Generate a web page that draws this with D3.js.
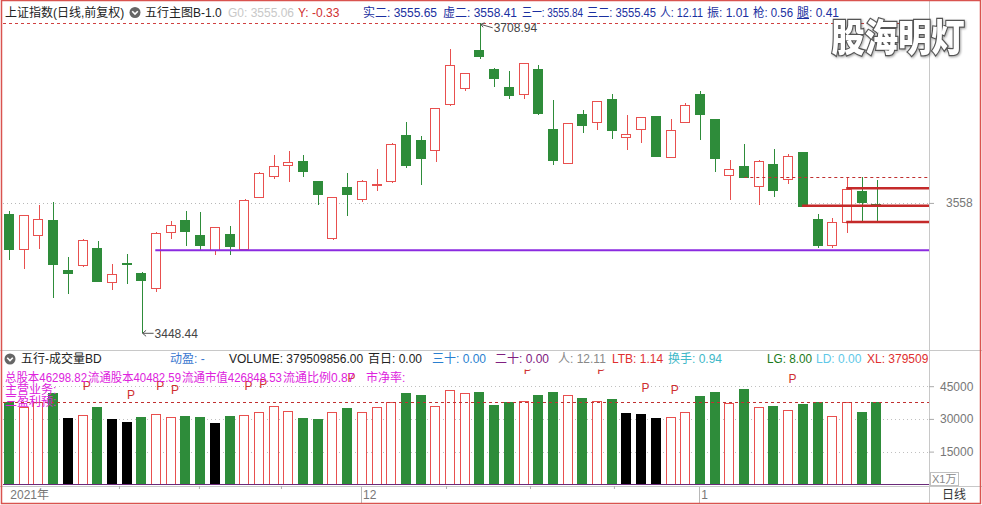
<!DOCTYPE html>
<html><head><meta charset="utf-8">
<script src="https://cdn.jsdelivr.net/npm/d3@7"></script>
<style>
html,body{margin:0;padding:0;background:#fff;}
svg{display:block;font-family:"Liberation Sans","Noto Sans CJK SC",sans-serif;}
</style></head><body>
<svg id="c" width="982" height="505"></svg>
<script>
// ---------------- DATA ----------------
const opens = [3548.29,3518.85,3530.62,3543.49,3501.44,3505.64,3520.19,3491.60,3507.91,3499.17,
3486.89,3533.65,3543.49,3530.88,3518.26,3531.97,3518.85,3562.59,3580.75,3590.34,
3593.37,3576.05,3528.10,3571.25,3561.75,3573.86,3576.55,3614.99,3611.04,3602.37,
3640.47,3653.93,3686.74,3670.25,3655.11,3648.89,3670.25,3620.04,3591.44,3632.65,
3625.67,3645.27,3613.05,3619.78,3630.97,3596.48,3625.67,3649.47,3628.45,3580.75,
3589.17,3572.68,3590.34,3578.57,3600.94,3544.08,3522.21,3541.81,3567.89,3557.00];
const highs = [3551.32,3548.00,3556.11,3558.89,3512.62,3527.76,3526.08,3507.07,3515.48,3499.60,
3533.40,3542.65,3551.06,3550.22,3537.90,3538.45,3560.90,3584.12,3597.91,3601.78,
3597.91,3576.40,3563.00,3582.77,3576.90,3586.14,3608.00,3626.18,3614.40,3637.80,
3687.58,3667.20,3708.94,3671.60,3668.82,3675.60,3673.87,3644.43,3625.33,3635.76,
3643.90,3649.47,3631.56,3630.20,3631.30,3628.45,3641.65,3652.00,3628.80,3593.96,
3607.67,3593.70,3602.96,3598.76,3601.20,3548.29,3544.92,3579.41,3579.41,3576.88];
const lows = [3509.85,3502.87,3519.69,3478.14,3481.25,3504.21,3491.60,3485.20,3489.66,3448.44,
3483.19,3528.10,3522.21,3518.26,3514.05,3514.05,3518.26,3562.30,3578.23,3575.71,
3579.91,3555.86,3527.26,3547.11,3558.89,3568.14,3574.36,3587.48,3572.93,3592.03,
3639.38,3652.25,3678.91,3655.62,3645.52,3645.27,3632.06,3589.50,3591.10,3616.92,
3618.94,3611.88,3602.37,3608.01,3597.00,3596.20,3625.40,3610.78,3584.12,3560.32,
3578.82,3555.86,3563.09,3573.52,3555.60,3520.19,3520.19,3532.31,3542.06,3542.06];
const closes = [3518.85,3547.45,3544.08,3506.48,3499.17,3526.92,3492.44,3498.66,3507.49,3493.62,
3532.81,3539.29,3534.24,3522.47,3537.61,3521.62,3560.06,3582.77,3589.17,3592.53,
3584.96,3565.11,3562.59,3565.11,3576.55,3574.20,3607.67,3589.76,3595.90,3637.45,
3673.61,3666.89,3681.44,3662.34,3648.04,3675.30,3632.90,3593.96,3624.83,3623.15,
3643.59,3618.94,3615.58,3629.88,3597.33,3618.94,3639.97,3632.90,3595.90,3586.14,
3579.91,3593.37,3568.14,3597.58,3555.86,3522.21,3541.81,3569.82,3558.63,3556.40];
// volume in 万 (x10000)
const volumes = [37750,35600,37750,42020,30550,31930,35600,30090,28720,31010,
32250,31010,31470,31010,27980,31470,31930,33160,35920,33620,
30550,30090,33160,35140,33160,35600,37750,42020,40820,35920,
43250,42020,42480,36520,37610,38210,41100,42340,40960,39590,
38210,39130,32840,32110,30550,30870,33160,40640,42340,37430,
43850,35600,36050,34080,36970,37750,31470,37750,33300,37951];
const blackVolIdx = [4,7,8,14,42,43,44];
const pMarkIdx = [5,8,10,11,16,17,23,35,40,43,45,53];
const pMarkLevel = [45230,41420,45230,43710,45230,46010,49220,52570,52570,44310,43710,48760];

const highValue = 3708.94, lowValue = 3448.44;
const supportLevel = 3518.26, supportFrom = 10;
const boxLevels = [3570.41, 3555.52, 3542.06];
const boxFrom = [57, 54, 57];
const dashLevel = 3579.66, dashFrom = 50;
const volDashLevel = 37615;
const priceTicks = [3558];
const volTicks = [15000, 30000, 45000];
const monthIdx = [0, 24, 47];
const monthLabels = ["2021年", "12", "1"];
const minorTickIdx = [7.46, 12.9, 18.48, 29.71, 35.42, 41.13];

const mainHeader = ["上证指数(日线,前复权)", "五行主图B-1.0", "G0: 3555.06", "Y: -0.33", "实二: 3555.65", "虚二: 3558.41",
  "三一: 3555.84", "三二: 3555.45", "人: 12.11", "振: 1.01", "枪: 0.56", "腿: 0.41"];
const volHeader = ["五行-成交量BD", "动盈: -", "VOLUME: 379509856.00", "百日: 0.00", "三十: 0.00", "二十: 0.00",
  "人: 12.11", "LTB: 1.14", "换手: 0.94", "LG: 8.00", "LD: 0.00", "XL: 379509856.00"];
const infoLine = ["总股本46298.82", "流通股本40482.59", "流通市值426848.53", "流通比例0.87", "市净率:"];
const infoLine2 = ["主营业务:", "三盈利预:"];
const watermark = "股海明灯";

// ---------------- LAYOUT ----------------
const svg = d3.select("#c");
const n = opens.length;
const RED = "#e8504f", GREEN = "#2e8c3a", PURPLE = "#8b2be0", DRED = "#c42a2a";
const x = d3.scaleBand().domain(d3.range(n)).range([1.95, 883.95]).paddingInner(0.29).paddingOuter(0.145);
const bw = x.bandwidth();
const cx = i => x(i) + bw / 2;
const xi = d3.scaleLinear().domain([0, n - 1]).range([cx(0), cx(n - 1)]);
const y = d3.scaleLinear().domain([lowValue, highValue]).range([333.3, 23.3]);
const yv = d3.scaleLinear().domain([0, 45000]).range([484.3, 386.2]);
const PR = 929; // plot right edge

// shrink a row of texts so that none runs into the next one
function fitRow(sel, xs, gap) {
  sel.each(function (d, k) {
    if (k >= xs.length - 1) return;
    const avail = xs[k + 1] - xs[k] - gap;
    const w = this.getComputedTextLength();
    if (w > avail) d3.select(this).attr("textLength", avail).attr("lengthAdjust", "spacingAndGlyphs");
  });
}

const defs = svg.append("defs");
defs.append("clipPath").attr("id", "clipMain").append("rect").attr("x", 3).attr("y", 20).attr("width", PR - 3).attr("height", 329);
defs.append("clipPath").attr("id", "clipVol").append("rect").attr("x", 3).attr("y", 369.5).attr("width", PR - 3).attr("height", 115.5);
defs.append("clipPath").attr("id", "clipHead").append("rect").attr("x", 0).attr("y", 0).attr("width", PR - 1).attr("height", 505);

svg.append("rect").attr("width", 982).attr("height", 505).attr("fill", "#fff");

// panel frame lines
const frame = svg.append("g").attr("stroke", "#c8c8c8").attr("shape-rendering", "crispEdges");
frame.append("line").attr("x1", PR + 0.5).attr("x2", PR + 0.5).attr("y1", 0).attr("y2", 504);
frame.append("line").attr("x1", 0).attr("x2", 982).attr("y1", 350.5).attr("y2", 350.5);
frame.append("line").attr("x1", 0).attr("x2", 982).attr("y1", 486.5).attr("y2", 486.5);

// ---------------- MAIN PANEL ----------------
const main = svg.append("g").attr("clip-path", "url(#clipMain)");
main.selectAll("line.grid").data(priceTicks).join("line")
  .attr("x1", 3).attr("x2", PR).attr("y1", d => Math.round(y(d)) + 0.5).attr("y2", d => Math.round(y(d)) + 0.5)
  .attr("stroke", "#b8b8b8").attr("stroke-dasharray", "1,3");
main.append("line").attr("x1", 3).attr("x2", PR).attr("y1", Math.round(y(highValue)) + 0.5).attr("y2", Math.round(y(highValue)) + 0.5)
  .attr("stroke", "#d04040").attr("stroke-dasharray", "3,3");

const up = i => closes[i] >= opens[i];
const cg = main.append("g").attr("shape-rendering", "crispEdges");
cg.selectAll("line.wick").data(d3.range(n)).join("line")
  .attr("x1", i => Math.round(cx(i)) + 0.5).attr("x2", i => Math.round(cx(i)) + 0.5)
  .attr("y1", i => y(highs[i])).attr("y2", i => y(lows[i]))
  .attr("stroke", i => up(i) ? RED : GREEN).attr("stroke-width", 1);
cg.selectAll("rect.body").data(d3.range(n)).join("rect")
  .attr("x", i => Math.round(x(i)) + 0.5)
  .attr("width", Math.round(bw) - 1)
  .attr("y", i => Math.round(y(Math.max(opens[i], closes[i]))) + 0.5)
  .attr("height", i => Math.max(1, Math.round(Math.abs(y(opens[i]) - y(closes[i])))))
  .attr("fill", i => up(i) ? "#fff" : GREEN)
  .attr("stroke", i => up(i) ? RED : GREEN);

main.append("line").attr("x1", cx(supportFrom) - 1).attr("x2", PR).attr("y1", y(supportLevel)).attr("y2", y(supportLevel))
  .attr("stroke", PURPLE).attr("stroke-width", 2);
main.append("line").attr("x1", cx(dashFrom)).attr("x2", PR).attr("y1", Math.round(y(dashLevel)) + 0.5).attr("y2", Math.round(y(dashLevel)) + 0.5)
  .attr("stroke", "#c03030").attr("stroke-dasharray", "3,3");
main.selectAll("line.box").data(boxLevels).join("line")
  .attr("x1", (d, k) => cx(boxFrom[k]) - 1).attr("x2", PR)
  .attr("y1", d => y(d)).attr("y2", d => y(d))
  .attr("stroke", DRED).attr("stroke-width", 2.5);

// high / low annotations
const hiIdx = highs.indexOf(highValue), loIdx = lows.indexOf(lowValue);
const ann = main.append("g").attr("stroke", "#555").attr("fill", "none");
const hx = cx(hiIdx) + 1, hy = y(highValue) + 1;
ann.append("path").attr("d", `M${hx},${hy} L${hx + 12},${hy + 3.5} M${hx},${hy} L${hx + 4},${hy - 1.5} M${hx},${hy} L${hx + 2.5},${hy + 3}`);
const lx = cx(loIdx) + 1, ly = y(lowValue);
ann.append("path").attr("d", `M${lx},${ly} L${lx + 11},${ly} M${lx},${ly} L${lx + 3.5},${ly - 3} M${lx},${ly} L${lx + 3.5},${ly + 3}`);
main.append("text").attr("x", hx + 13).attr("y", hy + 8).attr("font-size", 12).attr("fill", "#444").text(highValue.toFixed(2));
main.append("text").attr("x", lx + 12).attr("y", ly + 4.5).attr("font-size", 12).attr("fill", "#444").text(lowValue.toFixed(2));

// price axis
const pax = svg.append("g").attr("transform", `translate(${PR},0)`)
  .call(d3.axisRight(y).tickValues(priceTicks).tickSize(5).tickPadding(12).tickFormat(d3.format("d")));
pax.select(".domain").remove();
pax.selectAll("line").attr("stroke", "#aaa");
pax.selectAll("text").attr("fill", "#777").attr("font-size", 12).attr("font-family", "Liberation Sans");

// main header
const mhX = [5, 145, 228, 298, 363, 443, 522, 587, 660, 707, 753, 797];
const mhC = ["#222", "#222", "#c8c8c8", "#d03030", "#1a2fa0", "#1a2fa0", "#1a2fa0", "#1a2fa0", "#1a2fa0", "#1a2fa0", "#1a2fa0", "#1a2fa0"];
const mh = svg.append("g").attr("font-size", 12).attr("clip-path", "url(#clipHead)");
const mhT = mh.selectAll("text").data(mainHeader).join("text")
  .attr("x", (d, k) => mhX[k]).attr("y", 17).attr("fill", (d, k) => mhC[k]).text(d => d);
fitRow(mhT, mhX, 4);
mh.append("line").attr("x1", 797).attr("x2", 809).attr("y1", 18.5).attr("y2", 18.5).attr("stroke", "#1a2fa0");
function icon(g, px, py) {
  g.append("circle").attr("cx", px).attr("cy", py).attr("r", 5.5).attr("fill", "#666");
  g.append("path").attr("d", `M${px - 2.8},${py - 1.2} L${px},${py + 1.6} L${px + 2.8},${py - 1.2}`)
    .attr("stroke", "#fff").attr("stroke-width", 1.6).attr("fill", "none");
}
icon(svg, 135, 12.5);

// watermark
svg.append("g").attr("transform", "translate(898,51) scale(0.98,1.12)")
  .append("text").attr("text-anchor", "middle").attr("font-size", 34).attr("font-weight", 900)
  .attr("font-family", "Noto Sans CJK SC").attr("fill", "#fff").attr("stroke", "#555").attr("stroke-width", 2.2)
  .attr("paint-order", "stroke").attr("style", "filter:drop-shadow(1px 1px 1px rgba(0,0,0,0.35))").text(watermark);

// ---------------- VOLUME PANEL ----------------
const vol = svg.append("g").attr("clip-path", "url(#clipVol)");
vol.selectAll("line.vgrid").data(volTicks).join("line")
  .attr("x1", 3).attr("x2", PR).attr("y1", d => Math.round(yv(d)) + 0.5).attr("y2", d => Math.round(yv(d)) + 0.5)
  .attr("stroke", "#c0c0c0").attr("stroke-dasharray", "1,3");
const vcol = i => blackVolIdx.includes(i) ? "black" : (up(i) ? "up" : "down");
vol.append("g").attr("shape-rendering", "crispEdges").selectAll("rect").data(d3.range(n)).join("rect")
  .attr("x", i => Math.round(x(i)) + 0.5).attr("width", Math.round(bw) - 1)
  .attr("y", i => Math.round(yv(volumes[i])) + 0.5)
  .attr("height", i => Math.round(yv(0)) - Math.round(yv(volumes[i])))
  .attr("fill", i => vcol(i) === "black" ? "#000" : vcol(i) === "up" ? "#fff" : GREEN)
  .attr("stroke", i => vcol(i) === "black" ? "#000" : vcol(i) === "up" ? RED : GREEN);
vol.append("line").attr("x1", 3).attr("x2", PR).attr("y1", Math.round(yv(0)) + 0.5).attr("y2", Math.round(yv(0)) + 0.5)
  .attr("stroke", "#6a2a7a");
vol.append("line").attr("x1", 3).attr("x2", PR).attr("y1", Math.round(yv(volDashLevel)) + 0.5).attr("y2", Math.round(yv(volDashLevel)) + 0.5)
  .attr("stroke", "#c03030").attr("stroke-dasharray", "3,3");
vol.selectAll("text.p").data(pMarkIdx).join("text")
  .attr("x", i => cx(i)).attr("y", (i, k) => yv(pMarkLevel[k]) + 4.5)
  .attr("font-size", 12).attr("fill", "#d03030").text("P");

// info lines (magenta)
const info = svg.append("g").attr("font-size", 12).attr("fill", "#dd22dd");
const infoX = [5, 88, 182, 283, 366];
const infoT = info.selectAll("text.i1").data(infoLine).join("text").attr("x", (d, k) => infoX[k]).attr("y", 381.5).text(d => d);
fitRow(infoT, infoX, 1);
info.selectAll("text.i2").data(infoLine2).join("text").attr("x", 5).attr("y", (d, k) => 393.5 + k * 12).text(d => d);

// volume header
svg.append("rect").attr("x", 3).attr("y", 351).attr("width", PR - 3).attr("height", 16).attr("fill", "#fff");
const vhX = [21, 170, 229, 368, 432, 495, 558, 612, 668, 767, 816, 867];
const vhC = ["#222", "#3a78d0", "#222", "#222", "#2a7fd0", "#802080", "#888", "#e03030", "#40b8c8", "#1a7a1a", "#60c8e8", "#e03030"];
const vh = svg.append("g").attr("font-size", 12).attr("clip-path", "url(#clipHead)");
const vhT = vh.selectAll("text").data(volHeader).join("text")
  .attr("x", (d, k) => vhX[k]).attr("y", 363).attr("fill", (d, k) => vhC[k]).text(d => d);
fitRow(vhT, vhX, 4);
icon(svg, 10, 359);

// volume axis
const vax = svg.append("g").attr("transform", `translate(${PR},0)`)
  .call(d3.axisRight(yv).tickValues(volTicks).tickSize(5).tickPadding(6).tickFormat(d3.format("d")));
vax.select(".domain").remove();
vax.selectAll("line").attr("stroke", "#aaa");
vax.selectAll("text").attr("fill", "#777").attr("font-size", 12).attr("font-family", "Liberation Sans");
svg.append("rect").attr("x", 930.5).attr("y", 472.5).attr("width", 28).attr("height", 13).attr("fill", "none").attr("stroke", "#c0c0c0");
svg.append("text").attr("x", 932).attr("y", 483).attr("font-size", 11).attr("fill", "#888").text("X1万");

// ---------------- DATE AXIS ----------------
const dax = svg.append("g").attr("transform", "translate(0,486)")
  .call(d3.axisBottom(xi).tickValues(minorTickIdx).tickSize(3).tickFormat(""));
dax.select(".domain").remove();
dax.selectAll("line").attr("stroke", "#b0b0b0");
svg.selectAll("line.msep").data(monthIdx.slice(1)).join("line")
  .attr("x1", i => Math.round(xi(i) - 1) + 0.5).attr("x2", i => Math.round(xi(i) - 1) + 0.5)
  .attr("y1", 487).attr("y2", 503).attr("stroke", "#b8b8b8");
svg.selectAll("text.mlab").data(monthIdx).join("text")
  .attr("x", i => xi(i) + 1).attr("y", 499).attr("font-size", 12).attr("fill", "#777")
  .text((d, k) => monthLabels[k]);
svg.append("text").attr("x", 942).attr("y", 499).attr("font-size", 12).attr("fill", "#333").text("日线");

// outer red border
svg.append("rect").attr("x", 1.5).attr("y", 0.5).attr("width", 979).attr("height", 503)
  .attr("fill", "none").attr("stroke", "#d9534f").attr("stroke-width", 1.5);
</script>
</body></html>
